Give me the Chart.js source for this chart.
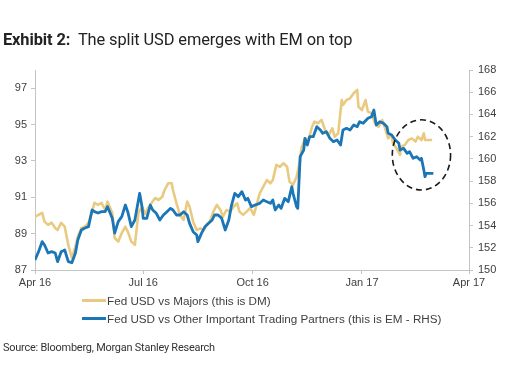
<!DOCTYPE html>
<html><head><meta charset="utf-8">
<script src="https://cdn.jsdelivr.net/npm/chart.js@4.4.1/dist/chart.umd.min.js"></script>
<style>
html,body{margin:0;padding:0;background:#fff;}
#wrap{position:relative;width:513px;height:379px;overflow:hidden;}
#c{position:absolute;left:0;top:0;}
#title{position:absolute;left:3px;top:30px;font-family:Roboto,sans-serif;font-size:16.4px;color:#222;white-space:nowrap;letter-spacing:-0.1px;}
#title b{font-weight:700;}
#legend{position:absolute;left:82px;top:291px;font-family:'Liberation Sans',Arial,sans-serif;font-size:11.7px;color:#404040;}
.li{display:flex;align-items:center;height:18.5px;white-space:nowrap;}
.sw{width:24px;height:3px;margin-right:1px;}
#source{position:absolute;left:3px;top:341px;font-family:Roboto,sans-serif;font-size:10.9px;color:#333;white-space:nowrap;letter-spacing:-0.2px;}
</style></head>
<body><div id="wrap">
<canvas id="c" width="513" height="379"></canvas>
<div id="title"><b>Exhibit 2:</b>&nbsp; The split USD emerges with EM on top</div>
<div id="legend"></div>
<div id="source">Source: Bloomberg, Morgan Stanley Research</div>
</div>
<script>
// ---- data ----
const seriesNames = ['Fed USD vs Majors (this is DM)', 'Fed USD vs Other Important Trading Partners (this is EM - RHS)'];

const dmDates = [
'2016-04-01','2016-04-04','2016-04-07','2016-04-09','2016-04-12','2016-04-15','2016-04-18','2016-04-20','2016-04-23','2016-04-26','2016-04-29',
'2016-05-02','2016-05-05','2016-05-07','2016-05-10','2016-05-13','2016-05-16','2016-05-19','2016-05-21','2016-05-24','2016-05-27','2016-05-30',
'2016-06-01','2016-06-05','2016-06-07','2016-06-10','2016-06-13','2016-06-16','2016-06-18','2016-06-21','2016-06-24','2016-06-27','2016-06-30',
'2016-07-03','2016-07-05','2016-07-08','2016-07-11','2016-07-14','2016-07-17','2016-07-19','2016-07-22','2016-07-25','2016-07-26','2016-07-29',
'2016-08-01','2016-08-04','2016-08-07','2016-08-09','2016-08-12','2016-08-15','2016-08-18','2016-08-21','2016-08-23','2016-08-26','2016-08-29',
'2016-09-01','2016-09-04','2016-09-06','2016-09-09','2016-09-12','2016-09-15','2016-09-18','2016-09-20','2016-09-23','2016-09-26','2016-09-29',
'2016-10-02','2016-10-04','2016-10-07','2016-10-10','2016-10-13','2016-10-16','2016-10-18','2016-10-21','2016-10-24','2016-10-27','2016-10-30',
'2016-11-01','2016-11-04','2016-11-07','2016-11-10','2016-11-11','2016-11-14','2016-11-17','2016-11-20','2016-11-22','2016-11-25','2016-11-28',
'2016-12-01','2016-12-04','2016-12-07','2016-12-09','2016-12-12','2016-12-15','2016-12-16','2016-12-19','2016-12-22','2016-12-25','2016-12-28','2016-12-29',
'2017-01-01','2017-01-04','2017-01-06','2017-01-09','2017-01-12','2017-01-15','2017-01-18','2017-01-20','2017-01-23','2017-01-26','2017-01-27','2017-01-30',
'2017-02-02','2017-02-03','2017-02-06','2017-02-09','2017-02-12','2017-02-15','2017-02-17','2017-02-20','2017-02-22','2017-02-23','2017-02-26','2017-03-01'
];
const dmValues = [
89.93,90.03,90.14,89.66,89.48,89.60,89.31,89.20,89.59,89.38,88.38,
87.66,88.28,88.83,89.31,89.38,89.59,90.21,90.69,90.58,90.69,90.30,
90.76,90.14,88.76,88.56,89.04,89.38,89.11,88.56,88.38,90.14,90.48,
90.08,90.41,90.69,90.96,90.85,91.03,91.40,91.77,91.77,91.40,90.67,
90.03,89.75,90.76,90.48,89.66,89.20,89.29,89.20,89.48,89.66,90.21,
90.58,90.30,89.93,90.30,90.21,90.48,90.67,90.21,90.03,90.21,90.41,
90.03,90.48,91.22,91.58,91.95,91.77,91.95,92.78,92.68,92.87,92.68,
91.86,91.68,92.13,93.05,93.69,94.24,94.15,94.88,95.16,95.07,95.25,
94.70,94.43,94.79,94.33,94.52,96.35,96.08,96.35,96.44,96.72,96.90,95.98,
95.80,96.35,95.71,95.62,95.07,94.88,95.25,94.88,94.24,94.43,93.97,93.69,
93.33,93.78,93.88,94.15,94.24,94.06,94.33,94.15,94.52,94.15,94.15,94.15
];

const emDates = [
'2016-04-01','2016-04-04','2016-04-07','2016-04-09','2016-04-12','2016-04-15','2016-04-18','2016-04-20','2016-04-23','2016-04-26','2016-04-29',
'2016-05-02','2016-05-05','2016-05-07','2016-05-10','2016-05-13','2016-05-16','2016-05-19','2016-05-21','2016-05-24','2016-05-27','2016-05-30',
'2016-06-01','2016-06-05','2016-06-07','2016-06-10','2016-06-13','2016-06-16','2016-06-18','2016-06-21','2016-06-24','2016-06-27','2016-06-28','2016-06-30',
'2016-07-01','2016-07-04','2016-07-07','2016-07-09','2016-07-12','2016-07-15','2016-07-18','2016-07-21','2016-07-24','2016-07-26','2016-07-29',
'2016-08-01','2016-08-04','2016-08-07','2016-08-09','2016-08-12','2016-08-15','2016-08-16','2016-08-19','2016-08-22','2016-08-25','2016-08-28','2016-08-30',
'2016-09-02','2016-09-05','2016-09-08','2016-09-11','2016-09-13','2016-09-16','2016-09-19','2016-09-22','2016-09-25','2016-09-27','2016-09-30',
'2016-10-03','2016-10-07','2016-10-10','2016-10-13','2016-10-16','2016-10-18','2016-10-20','2016-10-23','2016-10-25','2016-10-28','2016-10-31',
'2016-11-03','2016-11-04','2016-11-07','2016-11-08','2016-11-10','2016-11-13','2016-11-14','2016-11-16','2016-11-18','2016-11-21','2016-11-24','2016-11-27','2016-11-29',
'2016-12-02','2016-12-05','2016-12-08','2016-12-11','2016-12-14','2016-12-16','2016-12-19','2016-12-22','2016-12-25','2016-12-28','2016-12-30',
'2017-01-02','2017-01-06','2017-01-09','2017-01-11','2017-01-13','2017-01-16','2017-01-19','2017-01-22','2017-01-23','2017-01-26','2017-01-29',
'2017-02-01','2017-02-02','2017-02-05','2017-02-08','2017-02-10','2017-02-13','2017-02-16','2017-02-19','2017-02-20','2017-02-22','2017-02-23','2017-02-24','2017-02-27',
'2017-03-02'
];
const emValues = [
150.90,151.65,152.55,152.25,151.53,151.65,151.53,150.75,151.65,151.80,150.75,
150.66,151.53,152.70,153.60,153.78,153.90,155.40,155.25,155.13,155.25,155.25,
155.70,154.65,153.33,154.35,154.80,155.85,155.25,153.90,154.50,156.30,156.90,155.70,
154.65,154.65,155.85,155.40,155.10,154.50,154.95,155.25,155.55,155.40,154.95,
154.95,155.25,154.95,154.20,153.45,153.15,152.55,153.30,153.90,154.20,154.50,154.95,
154.95,154.65,153.60,154.50,155.70,156.90,156.60,157.05,156.30,156.45,155.70,
155.85,156.00,156.30,156.15,156.00,156.30,155.40,155.85,155.55,156.45,156.15,
157.50,156.90,155.70,155.55,160.20,160.80,161.85,161.25,162.00,162.00,162.90,162.60,162.30,
162.45,161.85,161.55,161.70,161.25,162.60,162.75,162.60,163.05,162.90,163.35,
163.20,163.65,163.80,164.40,163.05,163.35,163.20,162.90,162.30,162.15,161.70,
161.40,160.80,160.95,160.50,160.65,160.05,160.20,159.90,160.05,159.00,158.40,158.70,158.70,
158.70
];

const xTickDates = ['2016-04-01','2016-07-01','2016-10-01','2017-01-01','2017-04-01'];
const xTickLabels = ['Apr 16','Jul 16','Oct 16','Jan 17','Apr 17'];
const leftTicks = [87, 89, 91, 93, 95, 97];
const leftRange = [87, 98];
const rightTicks = [150, 152, 154, 156, 158, 160, 162, 164, 166, 168];
const rightRange = [150, 168];

// highlighted region (dashed ellipse), in data units
const highlight = { centerDate: '2017-02-20', centerValue: 93.33, halfWidthDays: 24.5, halfHeightValue: 1.93 };

// ---- helpers ----
const origin = Date.parse(xTickDates[0]);
const toDay = s => (Date.parse(s) - origin) / 864e5;
const xTickDays = xTickDates.map(toDay);

const colDM = 'rgb(234,202,128)';
const colEM = 'rgb(26,118,183)';
const axisCol = '#c4c4c4';
const tickFont = { family: "'Liberation Sans', Arial, sans-serif", size: 11 };

const ellipsePlugin = {
  id: 'ellipse',
  afterDatasetsDraw(chart) {
    const x = chart.scales.x, y = chart.scales.yL, ctx = chart.ctx;
    const cd = toDay(highlight.centerDate);
    const cx = x.getPixelForValue(cd);
    const cy = y.getPixelForValue(highlight.centerValue);
    const rx = Math.abs(x.getPixelForValue(cd + highlight.halfWidthDays) - cx);
    const ry = Math.abs(y.getPixelForValue(highlight.centerValue + highlight.halfHeightValue) - cy);
    ctx.save();
    ctx.beginPath();
    ctx.setLineDash([6, 4]);
    ctx.lineWidth = 1.6;
    ctx.strokeStyle = '#1a1a1a';
    ctx.ellipse(cx, cy, rx, ry, 0, 0, Math.PI * 2);
    ctx.stroke();
    ctx.restore();
  }
};

const chart = new Chart(document.getElementById('c'), {
  type: 'line',
  data: {
    datasets: [
      { label: seriesNames[0], data: dmDates.map((d, i) => ({ x: toDay(d), y: dmValues[i] })),
        yAxisID: 'yL', borderColor: colDM, backgroundColor: colDM, borderWidth: 2.6, pointRadius: 0, tension: 0, order: 2, borderJoinStyle: 'round' },
      { label: seriesNames[1], data: emDates.map((d, i) => ({ x: toDay(d), y: emValues[i] })),
        yAxisID: 'yR', borderColor: colEM, backgroundColor: colEM, borderWidth: 2.8, pointRadius: 0, tension: 0, order: 1, borderJoinStyle: 'round' }
    ]
  },
  options: {
    responsive: false,
    animation: false,
    devicePixelRatio: 1,
    layout: { padding: { top: 70, bottom: 89, left: 0, right: 0 } },
    plugins: { legend: { display: false }, tooltip: { enabled: false } },
    scales: {
      x: {
        type: 'linear', min: xTickDays[0], max: xTickDays[xTickDays.length - 1],
        afterBuildTicks: s => { s.ticks = xTickDays.map(v => ({ value: v })); },
        afterFit: s => { s.height = 20; },
        ticks: { autoSkip: false, maxRotation: 0, padding: 2, color: '#404040', font: tickFont,
          callback: v => { const i = xTickDays.indexOf(v); return i >= 0 ? xTickLabels[i] : ''; } },
        grid: { drawOnChartArea: false, drawTicks: true, tickLength: 4, color: axisCol },
        border: { color: axisCol, width: 1 }
      },
      yL: {
        position: 'left', min: leftRange[0], max: leftRange[1],
        afterBuildTicks: s => { s.ticks = leftTicks.map(v => ({ value: v })); },
        afterFit: s => { s.width = 35; },
        ticks: { padding: 4, color: '#404040', font: tickFont },
        grid: { drawOnChartArea: false, drawTicks: true, tickLength: 4, color: axisCol },
        border: { color: axisCol, width: 1 }
      },
      yR: {
        position: 'right', min: rightRange[0], max: rightRange[1],
        afterBuildTicks: s => { s.ticks = rightTicks.map(v => ({ value: v })); },
        afterFit: s => { s.width = 44; },
        ticks: { padding: 5, color: '#404040', font: tickFont },
        grid: { drawOnChartArea: false, drawTicks: true, tickLength: 4, color: axisCol },
        border: { color: axisCol, width: 1 }
      }
    }
  },
  plugins: [ellipsePlugin]
});

// HTML legend built from the chart datasets
const lg = document.getElementById('legend');
chart.data.datasets.forEach(ds => {
  const row = document.createElement('div'); row.className = 'li';
  const sw = document.createElement('span'); sw.className = 'sw'; sw.style.background = ds.borderColor;
  const tx = document.createElement('span'); tx.textContent = ds.label;
  row.appendChild(sw); row.appendChild(tx); lg.appendChild(row);
});
</script>
</body></html>
